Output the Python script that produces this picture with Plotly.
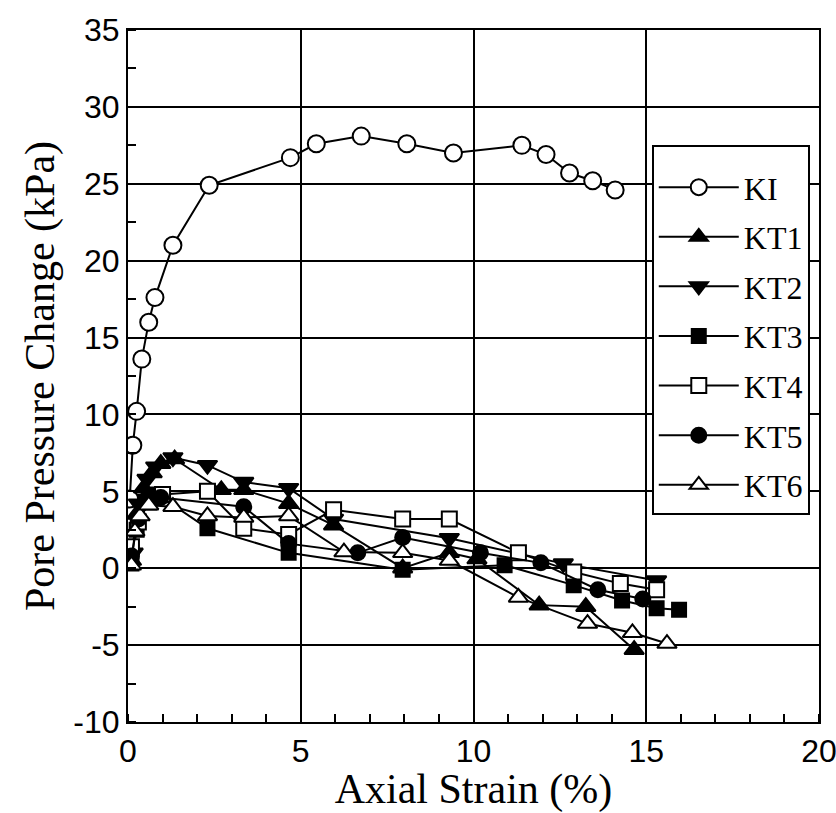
import plotly.graph_objects as go

# ---- data ----
ki_x = [0.05, 0.14, 0.25, 0.4, 0.6, 0.78, 1.3, 2.35, 4.7, 5.45, 6.75, 8.07, 9.42, 11.4, 12.1, 12.78, 13.45, 14.1]
ki_y = [4.5, 8.0, 10.2, 13.6, 16.0, 17.6, 21.0, 24.9, 26.7, 27.6, 28.1, 27.6, 27.0, 27.5, 26.9, 25.7, 25.2, 24.6]

kt1_x = [0.1, 0.25, 0.45, 0.7, 0.95, 1.35, 2.7, 3.35, 4.65, 5.95, 7.95, 9.3, 10.1, 11.9, 13.25, 14.65]
kt1_y = [0.5, 3.5, 5.2, 6.2, 6.8, 7.1, 5.1, 5.1, 4.2, 2.8, 0.0, 1.0, 0.6, -2.4, -2.5, -5.3]

kt2_x = [0.15, 0.3, 0.55, 0.8, 1.3, 2.3, 3.35, 4.65, 5.95, 9.3, 12.6, 15.3]
kt2_y = [1.0, 4.2, 5.8, 6.6, 7.2, 6.7, 5.6, 5.2, 3.2, 1.95, 0.3, -0.8]

kt3_x = [0.1, 0.25, 0.5, 0.85, 2.3, 4.65, 7.95, 10.9, 12.9, 14.3, 15.3, 15.95]
kt3_y = [0.3, 2.5, 4.3, 4.8, 2.6, 1.0, -0.1, 0.2, -1.1, -2.1, -2.6, -2.7]

kt4_x = [0.1, 0.3, 0.6, 1.0, 2.3, 3.35, 4.65, 5.95, 7.95, 9.3, 11.3, 12.9, 14.25, 15.3]
kt4_y = [1.4, 3.0, 4.3, 4.8, 5.0, 2.6, 2.2, 3.8, 3.2, 3.2, 1.0, -0.25, -1.0, -1.4]

kt5_x = [0.1, 0.3, 0.6, 0.95, 3.35, 4.65, 6.65, 7.95, 10.2, 11.95, 13.6, 14.9]
kt5_y = [0.8, 3.2, 4.5, 4.6, 4.0, 1.6, 1.0, 2.0, 1.0, 0.35, -1.4, -2.0]

kt6_x = [0.1, 0.2, 0.35, 0.6, 1.3, 2.3, 3.35, 4.65, 6.25, 7.95, 9.3, 11.3, 13.3, 14.6, 15.6]
kt6_y = [0.2, 2.4, 3.4, 4.1, 4.0, 3.4, 3.3, 3.4, 1.05, 1.0, 0.5, -1.9, -3.6, -4.2, -4.9]

series_names = ["KI", "KT1", "KT2", "KT3", "KT4", "KT5", "KT6"]
x_ticks = [0, 5, 10, 15, 20]
y_ticks = [-10, -5, 0, 5, 10, 15, 20, 25, 30, 35]

series = [
    (ki_x, ki_y, "circle", "white", 17),
    (kt1_x, kt1_y, "triangle-up", "black", 17),
    (kt2_x, kt2_y, "triangle-down", "black", 17),
    (kt3_x, kt3_y, "square", "black", 14),
    (kt4_x, kt4_y, "square", "white", 15),
    (kt5_x, kt5_y, "circle", "black", 15),
    (kt6_x, kt6_y, "triangle-up", "white", 17),
]

fig = go.Figure()
for i, (name, (xs, ys, sym, fill, size)) in enumerate(zip(series_names, series)):
    fig.add_trace(go.Scatter(
        x=xs, y=ys, name=name, mode="lines+markers",
        line=dict(color="black", width=2),
        marker=dict(symbol=sym, size=size, color=fill,
                    line=dict(color="black", width=2)),
        legendgroup=name, legendrank=i + 1,
    ))

fig.update_layout(
    width=836, height=813,
    margin=dict(l=128, r=17, t=30, b=91, autoexpand=False),
    paper_bgcolor="white", plot_bgcolor="white",
    font=dict(family="Liberation Sans, Arial", color="black"),
    showlegend=True,
    legend=dict(
        x=0.758, y=0.834, xanchor="left", yanchor="top",
        bgcolor="white", bordercolor="black", borderwidth=2,
        font=dict(family="Liberation Serif, Times New Roman", size=32, color="black"),
        tracegroupgap=5, traceorder="grouped",
        itemwidth=80,
        title=dict(text=" ", font=dict(size=10)),
    ),
)

fig.update_xaxes(
    range=[0, 20], tickvals=x_ticks, ticktext=[str(v) for v in x_ticks],
    showgrid=True, gridcolor="black", gridwidth=2,
    showline=True, linecolor="black", linewidth=2, mirror=True,
    ticks="", zeroline=False, ticklabeloverflow="allow", automargin=False,
    tickfont=dict(family="Liberation Sans, Arial", size=32),
    minor=dict(dtick=1, ticks="inside", ticklen=8, tickcolor="black", tickwidth=2, showgrid=False),
    title=dict(text="Axial Strain (%)", font=dict(family="Liberation Serif, Times New Roman", size=42), standoff=2),
)
fig.update_yaxes(
    range=[-10, 35], tickvals=y_ticks, ticktext=[str(v) for v in y_ticks],
    showgrid=True, gridcolor="black", gridwidth=2,
    showline=True, linecolor="black", linewidth=2, mirror=True,
    ticks="", zeroline=False, automargin=False,
    tickfont=dict(family="Liberation Sans, Arial", size=32),
    minor=dict(dtick=2.5, ticks="inside", ticklen=8, tickcolor="black", tickwidth=2, showgrid=False),
    title=dict(text="Pore Pressure Change (kPa)", font=dict(family="Liberation Serif, Times New Roman", size=42), standoff=6),
)

fig.write_html("out.html")
